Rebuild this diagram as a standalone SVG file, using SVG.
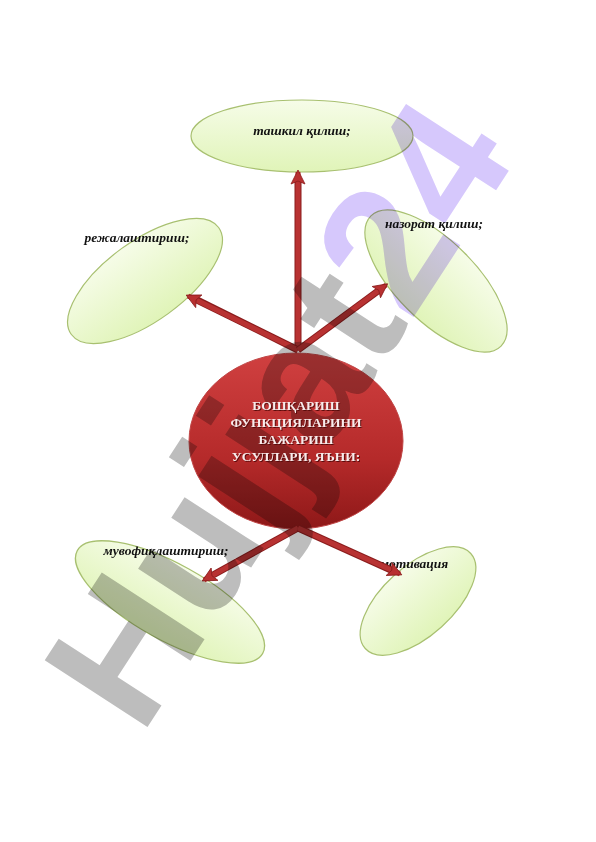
<svg xmlns="http://www.w3.org/2000/svg" width="596" height="842" viewBox="0 0 596 842">
<defs>
<linearGradient id="gGreen" x1="0" y1="0" x2="0" y2="1">
<stop offset="0" stop-color="#f6fce8"/>
<stop offset="1" stop-color="#e0f4b8"/>
</linearGradient>
<linearGradient id="gRed" x1="0" y1="0" x2="0" y2="1">
<stop offset="0" stop-color="#d04040"/>
<stop offset="0.6" stop-color="#b52a2a"/>
<stop offset="1" stop-color="#8e1818"/>
</linearGradient>
<marker id="ah" markerUnits="userSpaceOnUse" markerWidth="16" markerHeight="16" viewBox="0 0 16 16" refX="13" refY="8" orient="auto">
<path d="M1,1 L15,8 L1,15 L4,8 Z" fill="#b83030" stroke="#8a1c1c" stroke-width="0.8"/>
</marker>
<style>
.leaf{fill:url(#gGreen);stroke:#a8c070;stroke-width:1.2}
.lbl{font-family:"Liberation Serif","DejaVu Serif",serif;font-weight:bold;font-style:italic;font-size:13.5px;fill:#111}
.ctr{font-family:"Liberation Serif","DejaVu Serif",serif;font-weight:bold;font-size:13.5px;text-anchor:middle}
.ctrSh{fill:#5a0c0c}
.ctrFg{fill:#f8ecec}
.arr{stroke:#b83232;stroke-width:5;fill:none;marker-end:url(#ah)}
.arrEdge{stroke:#8a1c1c;stroke-width:7;fill:none}
.wm{font-family:"Liberation Sans","DejaVu Sans",sans-serif;font-weight:bold;font-size:178px;mix-blend-mode:multiply}
</style>
</defs>
<rect width="596" height="842" fill="#ffffff"/>

<g id="node-center">
<ellipse cx="296" cy="441" rx="107" ry="88" fill="url(#gRed)" stroke="#c04545" stroke-width="1"/>
</g>

<g id="node-tashkil">
<ellipse class="leaf" cx="302" cy="136" rx="111" ry="36"/>
<text class="lbl" x="302" y="135" text-anchor="middle">ташкил қилиш;</text>
</g>

<g id="node-rezhalashtirish">
<ellipse class="leaf" cx="145" cy="281" rx="91" ry="40" transform="rotate(-36 145 281)"/>
<text class="lbl" x="137" y="242" text-anchor="middle">режалаштириш;</text>
</g>

<g id="node-nazorat">
<ellipse class="leaf" cx="436" cy="281" rx="92" ry="40" transform="rotate(45 436 281)"/>
<text class="lbl" x="434" y="228" text-anchor="middle">назорат қилиш;</text>
</g>

<g id="node-muvofiqlashtirish">
<ellipse class="leaf" cx="170" cy="602" rx="106" ry="38" transform="rotate(29 170 602)"/>
<text class="lbl" x="166" y="555" text-anchor="middle">мувофиқлаштириш;</text>
</g>

<g id="node-motivatsiya">
<ellipse class="leaf" cx="418" cy="601" rx="71" ry="35" transform="rotate(-42 418 601)"/>
<text class="lbl" x="414" y="568" text-anchor="middle">мотивация</text>
</g>

<g id="connectors">
<line class="arrEdge" x1="298" y1="350" x2="298" y2="182"/>
<line class="arr" x1="298" y1="350" x2="298" y2="172"/>
<line class="arrEdge" x1="298" y1="350" x2="197" y2="300"/>
<line class="arr" x1="298" y1="350" x2="188" y2="296"/>
<line class="arrEdge" x1="298" y1="350" x2="378" y2="291"/>
<line class="arr" x1="298" y1="350" x2="386" y2="285"/>
<line class="arrEdge" x1="298" y1="528" x2="213" y2="575"/>
<line class="arr" x1="298" y1="528" x2="204" y2="580"/>
<line class="arrEdge" x1="298" y1="528" x2="391" y2="570"/>
<line class="arr" x1="298" y1="528" x2="400" y2="574"/>
</g>

<g id="watermark">
<text class="wm" transform="translate(141,737) rotate(-57)" x="0" y="0"><tspan fill="#bdbdbd">Hujjat</tspan><tspan fill="#d6c8fc">24</tspan></text>
</g>

<g id="node-center-label">
<g class="ctr ctrSh" transform="translate(1,1)">
<text x="296" y="410">БОШҚАРИШ</text>
<text x="296" y="427">ФУНКЦИЯЛАРИНИ</text>
<text x="296" y="444">БАЖАРИШ</text>
<text x="296" y="461">УСУЛЛАРИ, ЯЪНИ:</text>
</g>
<g class="ctr ctrFg">
<text x="296" y="410">БОШҚАРИШ</text>
<text x="296" y="427">ФУНКЦИЯЛАРИНИ</text>
<text x="296" y="444">БАЖАРИШ</text>
<text x="296" y="461">УСУЛЛАРИ, ЯЪНИ:</text>
</g>
</g>
</svg>
